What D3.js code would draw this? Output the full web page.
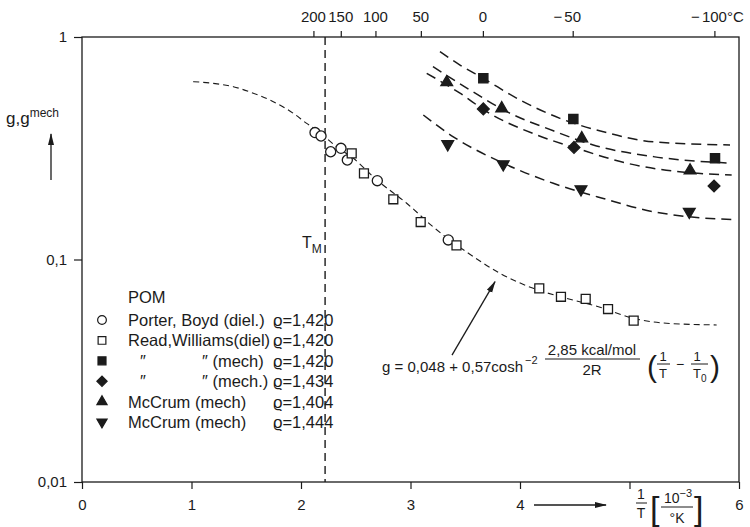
<!DOCTYPE html>
<html><head><meta charset="utf-8">
<script src="https://cdn.jsdelivr.net/npm/d3@7"></script>
<style>
body{margin:0;background:#fff}
svg text{font-family:"Liberation Sans",Arial,"DejaVu Sans",sans-serif;fill:#1b1b1b}
</style></head><body>
<svg id="chart" width="750" height="527"></svg>
<script>
// ---- axes ----
const xTicks = [0, 1, 2, 3, 4, 5, 6];
const xTickLabels = ["0", "1", "2", "3", "4", "", "6"];
const yTicks = [1, 0.1, 0.01];
const yTickLabels = ["1", "0,1", "0,01"];
const tempTicksC = [200, 150, 100, 50, 0, -50, -100];
const meltingX = 2.22;

// ---- measured points: x = 1/T [10^-3/K], g ----
const porterBoydDiel = [[2.128,0.372],[2.183,0.359],[2.271,0.305],[2.365,0.316],[2.423,0.280],[2.697,0.226],[3.345,0.1224]];
const readWilliamsDiel = [[2.463,0.300],[2.575,0.244],[2.843,0.1865],[3.093,0.1474],[3.420,0.1158],[4.176,0.0742],[4.374,0.0680],[4.600,0.0665],[4.804,0.0599],[5.038,0.0531]];
const readWilliamsMech1420 = [[3.665,0.652],[4.487,0.428],[5.781,0.285]];
const readWilliamsMech1434 = [[3.665,0.475],[4.493,0.319],[5.772,0.214]];
const mcCrumMech1404 = [[3.331,0.626],[3.833,0.478],[4.564,0.350],[5.553,0.251]];
const mcCrumMech1444 = [[3.340,0.330],[3.847,0.268],[4.557,0.207],[5.546,0.164]];

// ---- dashed guide curves ----
const dielCurve = [[1.016,0.630],[1.199,0.619],[1.382,0.598],[1.564,0.559],[1.747,0.512],[1.930,0.454],[2.052,0.409],[2.155,0.378],[2.326,0.321],[2.478,0.285],[2.691,0.228],[2.965,0.179],[3.208,0.140],[3.422,0.116],[3.513,0.108],[3.817,0.0867],[4.121,0.0742],[4.426,0.0669],[4.731,0.0610],[5.035,0.0544],[5.339,0.0517],[5.796,0.0508]];
const mechCurve1 = [[3.269,0.859],[3.452,0.748],[3.665,0.652],[4.000,0.521],[4.365,0.431],[4.761,0.375],[5.217,0.338],[5.918,0.327]];
const mechCurve2 = [[3.205,0.736],[3.543,0.578],[3.879,0.462],[4.304,0.379],[4.669,0.327],[5.217,0.290],[5.933,0.271]];
const mechCurve3 = [[3.148,0.687],[3.452,0.559],[3.696,0.462],[4.153,0.363],[4.518,0.316],[4.974,0.271],[5.522,0.246],[5.933,0.240]];
const mechCurve4 = [[3.117,0.446],[3.391,0.356],[3.847,0.271],[4.304,0.220],[4.761,0.188],[5.217,0.164],[5.522,0.156],[5.948,0.151]];

// ---- legend ----
const legendTitle = "POM";
const legendLabels = [["Porter, Boyd (diel.)"],["Read,Williams(diel)"],["″","″ (mech)"],["″","″ (mech.)"],["McCrum (mech)"],["McCrum (mech)"]];
const legendRho = ["1,420","1,420","1,420","1,434","1,404","1,444"];

const ink = "#1b1b1b";
const svg = d3.select("#chart");
const plot = {left: 82, right: 739, top: 37, bottom: 482};
const x = d3.scaleLinear().domain([0, 6]).range([plot.left, plot.right]);
const y = d3.scaleLog().domain([0.01, 1]).range([plot.bottom, plot.top]);

const defs = svg.append("defs");
defs.append("marker").attr("id","head").attr("viewBox","0 0 12 8").attr("refX",11).attr("refY",4)
  .attr("markerWidth",12).attr("markerHeight",8).attr("markerUnits","userSpaceOnUse").attr("orient","auto")
  .append("path").attr("d","M0,1 L12,4 L0,7 Z").attr("fill",ink);

// frame
svg.append("rect").attr("x",plot.left).attr("y",plot.top)
  .attr("width",plot.right-plot.left).attr("height",plot.bottom-plot.top)
  .attr("fill","none").attr("stroke",ink).attr("stroke-width",1.3);

// bottom axis
const gB = svg.append("g").attr("transform",`translate(0,${plot.bottom})`)
  .call(d3.axisBottom(x).tickValues(xTicks).tickSize(7).tickSizeOuter(0).tickPadding(10)
  .tickFormat((d,i)=>xTickLabels[i]));
gB.select(".domain").remove();
gB.selectAll("line").attr("stroke",ink).attr("stroke-width",1.2);
gB.selectAll("text").attr("font-size",15).attr("fill",ink);

// left axis
const gL = svg.append("g").attr("transform",`translate(${plot.left},0)`)
  .call(d3.axisLeft(y).tickValues(yTicks).tickSize(8).tickSizeOuter(0).tickPadding(7)
  .tickFormat((d,i)=>yTickLabels[i]));
gL.select(".domain").remove();
gL.selectAll("line").attr("stroke",ink).attr("stroke-width",1.2);
gL.selectAll("text").attr("font-size",15).attr("fill",ink);

// top axis in degrees Celsius
const tempX = tempTicksC.map(t => 1000 / (t + 273.15));
const gT = svg.append("g").attr("transform",`translate(0,${plot.top})`)
  .call(d3.axisTop(x).tickValues(tempX).tickSize(6).tickSizeOuter(0).tickFormat(""));
gT.select(".domain").remove();
gT.selectAll("line").attr("stroke",ink).attr("stroke-width",1.2);
tempTicksC.forEach((t,i) => {
  const cx = x(tempX[i]);
  const ty = plot.top - 15;
  const lab = svg.append("text").attr("x",cx).attr("y",ty).attr("text-anchor","middle")
    .attr("font-size",15).text(Math.abs(t));
  const w = lab.node().getComputedTextLength();
  if (t < 0) svg.append("text").attr("x",cx-w/2-2).attr("y",ty).attr("text-anchor","end")
    .attr("font-size",15).text("−");
  if (i === tempTicksC.length-1) svg.append("text").attr("x",cx+w/2).attr("y",ty)
    .attr("font-size",15).text("°C");
});

// melting temperature
svg.append("line").attr("x1",x(meltingX)).attr("x2",x(meltingX)).attr("y1",plot.top).attr("y2",plot.bottom)
  .attr("stroke",ink).attr("stroke-width",1.4).attr("stroke-dasharray","8,5");
const tm = svg.append("text").attr("x",x(meltingX)-23).attr("y",248).attr("font-size",16).text("T");
tm.append("tspan").attr("dy",5).attr("font-size",12).text("M");

// dashed curves
const line = d3.line().x(d=>x(d[0])).y(d=>y(d[1])).curve(d3.curveMonotoneX);
svg.append("path").datum(dielCurve).attr("d",line).attr("fill","none").attr("stroke",ink)
  .attr("stroke-width",1.1).attr("stroke-dasharray","6,4");
[mechCurve1, mechCurve2, mechCurve3, mechCurve4].forEach(c => {
  svg.append("path").datum(c).attr("d",line).attr("fill","none").attr("stroke",ink)
    .attr("stroke-width",1.5).attr("stroke-dasharray","10,6");
});

// markers
const styles = [
  {type:d3.symbolCircle, size:80, fill:"#fff", rot:0},
  {type:d3.symbolSquare, size:80, fill:"#fff", rot:0},
  {type:d3.symbolSquare, size:85, fill:ink, rot:0},
  {type:d3.symbolSquare, size:70, fill:ink, rot:45},
  {type:d3.symbolTriangle, size:60, fill:ink, rot:0},
  {type:d3.symbolTriangle, size:60, fill:ink, rot:180}
];
const seriesList = [porterBoydDiel, readWilliamsDiel, readWilliamsMech1420, readWilliamsMech1434, mcCrumMech1404, mcCrumMech1444];
seriesList.forEach((s,k) => {
  const st = styles[k];
  svg.append("g").selectAll("path").data(s).join("path")
    .attr("d", d3.symbol().type(st.type).size(st.size))
    .attr("transform", d => `translate(${x(d[0])},${y(d[1])}) rotate(${st.rot})`)
    .attr("fill", st.fill).attr("stroke", ink).attr("stroke-width", 1.3);
});

// legend
svg.append("text").attr("x",128).attr("y",303).attr("font-size",16.5).text(legendTitle);
legendLabels.forEach((parts,i) => {
  const cy = 320 + i*20.4;
  const st = styles[i];
  svg.append("path").attr("d", d3.symbol().type(st.type).size(st.size*0.75))
    .attr("transform",`translate(102,${cy}) rotate(${st.rot})`)
    .attr("fill",st.fill).attr("stroke",ink).attr("stroke-width",1.2);
  if (parts.length === 1) {
    svg.append("text").attr("x",128).attr("y",cy+6).attr("font-size",16.5).text(parts[0]);
  } else {
    svg.append("text").attr("x",140).attr("y",cy+6).attr("font-size",16.5).text(parts[0]);
    svg.append("text").attr("x",202).attr("y",cy+6).attr("font-size",16.5).text(parts[1]);
  }
  svg.append("text").attr("x",273).attr("y",cy+6).attr("font-size",16.5).text("ϱ=" + legendRho[i]);
});

// fit formula
const fx = 523, fy = 372;
svg.append("text").attr("x",fx).attr("y",fy).attr("text-anchor","end").attr("font-size",15).text("g = 0,048 + 0,57cosh");
svg.append("text").attr("x",fx+2).attr("y",fy-8).attr("font-size",11).text("−2");
svg.append("text").attr("x",592).attr("y",fy-17).attr("text-anchor","middle").attr("font-size",15).text("2,85 kcal/mol");
svg.append("line").attr("x1",545).attr("x2",640).attr("y1",fy-13).attr("y2",fy-13).attr("stroke",ink).attr("stroke-width",1.1);
svg.append("text").attr("x",592).attr("y",fy+3).attr("text-anchor","middle").attr("font-size",15).text("2R");
svg.append("text").attr("x",647).attr("y",fy+5).attr("font-size",30).attr("font-weight",300).text("(");
[[663,"T",""],[697,"T","0"]].forEach(([cx,t,sub]) => {
  svg.append("text").attr("x",cx).attr("y",fy-11).attr("text-anchor","middle").attr("font-size",13).text("1");
  svg.append("line").attr("x1",cx-6).attr("x2",cx+7+(sub?4:0)).attr("y1",fy-8).attr("y2",fy-8).attr("stroke",ink).attr("stroke-width",1);
  const tt = svg.append("text").attr("x",cx-4).attr("y",fy+6).attr("font-size",13).text(t);
  if (sub) tt.append("tspan").attr("dy",4).attr("font-size",10).text(sub);
});
svg.append("text").attr("x",680).attr("y",fy-3).attr("text-anchor","middle").attr("font-size",14).text("−");
svg.append("text").attr("x",710).attr("y",fy+5).attr("font-size",30).attr("font-weight",300).text(")");

// pointer to the fit curve
svg.append("line").attr("x1",x(3.379)).attr("y1",y(0.0372)).attr("x2",x(3.772)).attr("y2",y(0.0795))
  .attr("stroke",ink).attr("stroke-width",1.3).attr("marker-end","url(#head)");

// x axis title
svg.append("line").attr("x1",534).attr("x2",606).attr("y1",505).attr("y2",505)
  .attr("stroke",ink).attr("stroke-width",1.3).attr("marker-end","url(#head)");
svg.append("text").attr("x",641).attr("y",499).attr("text-anchor","middle").attr("font-size",14).text("1");
svg.append("line").attr("x1",636).attr("x2",647).attr("y1",503).attr("y2",503).attr("stroke",ink).attr("stroke-width",1);
svg.append("text").attr("x",641).attr("y",518).attr("text-anchor","middle").attr("font-size",14).text("T");
svg.append("text").attr("x",650).attr("y",520).attr("font-size",34).attr("font-weight",300).text("[");
const tenTxt = svg.append("text").attr("x",664).attr("y",503).attr("font-size",14).text("10");
tenTxt.append("tspan").attr("dy",-6).attr("font-size",11).text("−3");
svg.append("line").attr("x1",661).attr("x2",693).attr("y1",507).attr("y2",507).attr("stroke",ink).attr("stroke-width",1);
svg.append("text").attr("x",677).attr("y",523).attr("text-anchor","middle").attr("font-size",14).text("°K");
svg.append("text").attr("x",694).attr("y",520).attr("font-size",34).attr("font-weight",300).text("]");

// y axis title
const yt = svg.append("text").attr("x",6).attr("y",124).attr("font-size",17).text("g,g");
yt.append("tspan").attr("dy",-7).attr("font-size",12).text("mech");
svg.append("line").attr("x1",51).attr("x2",51).attr("y1",180).attr("y2",134)
  .attr("stroke",ink).attr("stroke-width",1.3).attr("marker-end","url(#head)");
</script>
</body></html>
